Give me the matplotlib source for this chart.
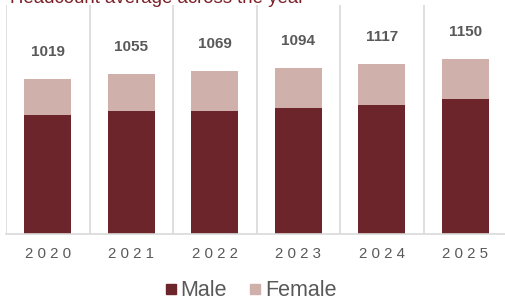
import matplotlib
matplotlib.use('Agg')
import matplotlib.pyplot as plt
from matplotlib.lines import Line2D

plt.rcParams['font.family'] = ['Liberation Sans', 'DejaVu Sans']

# data
years = ['2020', '2021', '2022', '2023', '2024', '2025']
male = [783, 807, 811, 831, 849, 886]
female = [236, 248, 258, 263, 268, 264]
totals = [1019, 1055, 1069, 1094, 1117, 1150]

male_color = '#6c252a'
female_color = '#cfb0aa'
text_gray = '#595959'
grid_gray = '#d9d9d9'

W, H = 505, 300
fig = plt.figure(figsize=(W / 100, H / 100), dpi=100)
ax = fig.add_axes([6 / W, 66 / H, 501 / W, 229 / H])

x = list(range(len(years)))
ax.bar(x, male, width=0.56, color=male_color, zorder=2)
ax.bar(x, female, width=0.56, bottom=male, color=female_color, zorder=2)

# value labels above each stack
for xi, t in zip(x, totals):
    ax.annotate(str(t), (xi, t), xytext=(0, 27), textcoords='offset pixels',
                ha='center', va='center', fontsize=11, fontweight='bold',
                color=text_gray)

# category separators
for sep in [i - 0.5 for i in range(len(years))]:
    ax.axvline(sep, color=grid_gray, lw=1.2, zorder=1)

ax.set_xlim(-0.5, len(years) - 0.5)
ax.set_ylim(0, 1506)
ax.set_yticks([])
ax.set_xticks(x)
ax.set_xticklabels([' '.join(y) for y in years], fontsize=10.8, color=text_gray)
ax.tick_params(axis='x', length=0, pad=9)
for s in ['top', 'right', 'left']:
    ax.spines[s].set_visible(False)
ax.spines['bottom'].set_color(grid_gray)
ax.spines['bottom'].set_linewidth(1.2)

# title, cut off at the top like the reference
fig.text(10 / W, 1 - 3 / H, 'Headcount average across the year', fontsize=13.4,
         color='#7b2027', va='baseline', ha='left')

handles = [Line2D([], [], marker='s', ls='', markersize=6.5, color=male_color),
           Line2D([], [], marker='s', ls='', markersize=6.5, color=female_color)]
fig.legend(handles, ['Male', 'Female'], loc='center', bbox_to_anchor=(0.496, 0.03),
           ncol=2, frameon=False, fontsize=15.5, labelcolor=text_gray,
           handlelength=0.6, handletextpad=0.15, columnspacing=1.0)

fig.savefig('out.png', dpi=100)
